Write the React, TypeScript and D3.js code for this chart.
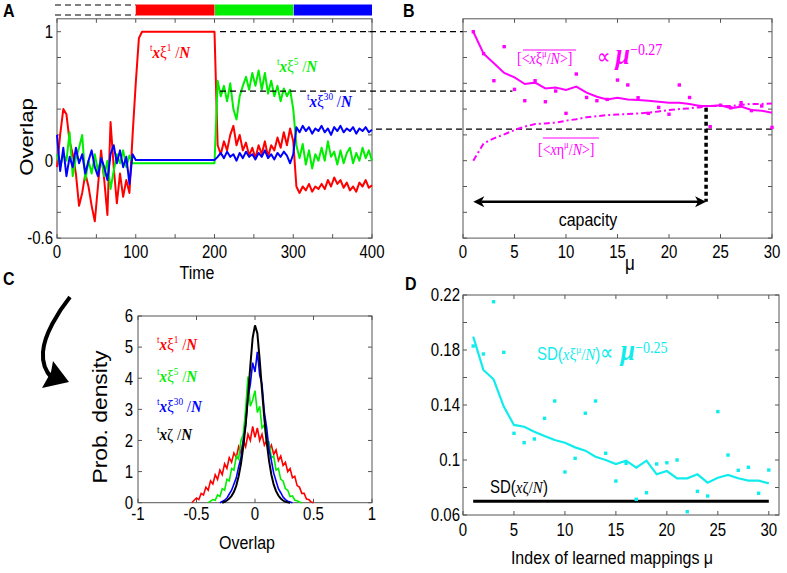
import React from "react";
import * as d3 from "d3";

const SANS = "'Liberation Sans', Arial, Helvetica, sans-serif";
const SERIF = "'Liberation Serif', 'Times New Roman', serif";
const RED = "#ff0000";
const GREEN = "#00ee00";
const BLUE = "#0000ff";
const MAG = "#ff00ff";
const CYAN = "#10ecec";
const STRETCH = 1.17;

// ---------- Panel A : overlap time series (time step 4) ----------
const timeA = d3.range(0, 401, 4);
const overlapXi1 = [
  -0.05, 0.2, 0.4, 0.36, 0.15, 0.05, -0.1, -0.35, -0.25, -0.1, -0.2, -0.35, -0.47, -0.2, 0.08, -0.15, -0.42, 0.3, -0.05, -0.33, -0.1, -0.28, -0.15, -0.25, 0.2,
  0.6, 0.95, 1.0, 1.0, 1.0, 1.0, 1.0, 1.0, 1.0, 1.0, 1.0, 1.0, 1.0, 1.0, 1.0, 1.0, 1.0, 1.0, 1.0, 1.0, 1.0, 1.0, 1.0, 1.0, 1.0, 1.0,
  0.12, 0.05, 0.15, 0.08, 0.2, 0.27, 0.12, 0.2, 0.08, 0.14, 0.04, 0.1, 0.02, 0.12, 0.05, 0.15, 0.03, 0.12, 0.08, 0.18, 0.1, 0.22, 0.12, 0.25, 0.15,
  -0.2, -0.25, -0.2, -0.23, -0.18, -0.24, -0.2, -0.22, -0.18, -0.22, -0.15, -0.2, -0.13, -0.18, -0.15, -0.21, -0.17, -0.23, -0.2, -0.24, -0.17, -0.2, -0.15, -0.21, -0.19,
];
const overlapXi5 = [
  0.05, -0.05, 0.05, 0.0, 0.22, -0.12, 0.02, 0.1, 0.2, -0.15, 0.0, -0.1, 0.05, -0.08, 0.02, -0.12, 0.0, -0.22, -0.08, 0.05, -0.02, 0.08, -0.05, 0.04, -0.02,
  -0.02, -0.02, -0.02, -0.02, -0.02, -0.02, -0.02, -0.02, -0.02, -0.02, -0.02, -0.02, -0.02, -0.02, -0.02, -0.02, -0.02, -0.02, -0.02, -0.02, -0.02, -0.02, -0.02, -0.02, -0.02, -0.02,
  0.62, 0.5, 0.58, 0.46, 0.6, 0.4, 0.32, 0.5, 0.58, 0.65, 0.55, 0.68, 0.58, 0.7, 0.55, 0.68, 0.52, 0.62, 0.5, 0.58, 0.46, 0.56, 0.5, 0.55, 0.4,
  0.12, 0.02, 0.13, -0.03, 0.08, -0.06, 0.05, 0.0, 0.1, 0.0, 0.15, 0.03, 0.07, -0.03, 0.08, -0.02, 0.06, 0.1, -0.02, 0.06, 0.0, 0.1, 0.02, 0.08, 0.0,
];
const overlapXi30 = [
  0.2, -0.08, 0.1, -0.12, 0.03, -0.05, 0.1, -0.02, 0.05, -0.1, 0.0, 0.08, -0.05, -0.12, 0.02, -0.05, -0.15, 0.05, 0.12, -0.02, 0.08, -0.05, 0.03, -0.18, 0.05,
  0.005, 0.005, 0.005, 0.005, 0.005, 0.005, 0.005, 0.005, 0.005, 0.005, 0.005, 0.005, 0.005, 0.005, 0.005, 0.005, 0.005, 0.005, 0.005, 0.005, 0.005, 0.005, 0.005, 0.005, 0.005, 0.005,
  0.03, 0.06, 0.02, 0.07, 0.03, 0.05, 0.0, 0.06, 0.02, 0.07, 0.03, 0.05, 0.01, 0.06, 0.03, 0.08, 0.02, 0.05, 0.01, 0.06, 0.03, 0.07, 0.04, -0.02, 0.05,
  0.26, 0.22, 0.27, 0.23, 0.26, 0.21, 0.25, 0.23, 0.27, 0.22, 0.25, 0.2, 0.26, 0.23, 0.27, 0.22, 0.25, 0.23, 0.26, 0.21, 0.25, 0.23, 0.26, 0.22, 0.24,
];
const timeTicksA = [0, 50, 100, 150, 200, 250, 300, 350, 400];
const timeLabelsA = [0, 100, 200, 300, 400];
const overlapTicks = [-0.6, -0.4, -0.2, 0, 0.2, 0.4, 0.6, 0.8, 1];
const overlapLabels = [-0.6, 0, 1];

// ---------- Panel B ----------
const muB = [1, 2, 3, 4, 5, 6, 7, 8, 9, 10, 11, 12, 13, 14, 15, 16, 17, 18, 19, 20, 21, 22, 23, 24, 25, 26, 27, 28, 29, 30];
const xiMeanFit = [1.0, 0.83, 0.755, 0.68, 0.646, 0.594, 0.605, 0.56, 0.568, 0.548, 0.574, 0.527, 0.496, 0.475, 0.488, 0.475, 0.47, 0.465, 0.457, 0.45, 0.45, 0.44, 0.424, 0.424, 0.43, 0.406, 0.419, 0.393, 0.388, 0.372];
const xiMeanDots = [1.0, 0.83, 0.62, 0.884, 0.553, 0.465, 0.62, 0.457, 0.54, 0.367, 0.672, 0.49, 0.465, 0.475, 0.625, 0.587, 0.488, 0.367, 0.413, 0.36, 0.587, 0.49, 0.42, 0.264, 0.43, 0.41, 0.45, 0.388, 0.424, 0.258];
const etaMean = [0.0, 0.134, 0.173, 0.204, 0.238, 0.264, 0.284, 0.289, 0.295, 0.31, 0.322, 0.336, 0.345, 0.354, 0.358, 0.362, 0.366, 0.372, 0.382, 0.393, 0.4, 0.406, 0.415, 0.424, 0.424, 0.424, 0.432, 0.44, 0.44, 0.444];
const muTicks = [0, 5, 10, 15, 20, 25, 30];
const capacityMu = 23.6;

// ---------- Panel C : histograms (bin 0.02) ----------
const histRedStart = -0.54;
const histRed = [0.0, 0.08, 0.15, 0.1, 0.3, 0.25, 0.5, 0.4, 0.7, 0.6, 0.9, 0.75, 1.05, 0.9, 1.25, 1.1, 1.45, 1.3, 1.6, 1.45, 1.8, 1.6, 2.0, 1.8, 2.2, 2.0, 2.45,
  2.1, 2.4, 2.0, 2.2, 1.85, 2.0, 1.7, 1.85, 1.55, 1.7, 1.35, 1.5, 1.2, 1.3, 1.0, 1.1, 0.8, 0.85, 0.55, 0.5, 0.3, 0.3, 0.12, 0.1, 0.02, 0.0];
const histGreenStart = -0.4;
const histGreen = [0.0, 0.05, 0.1, 0.08, 0.25, 0.2, 0.45, 0.4, 0.75, 0.7, 1.1, 1.05, 1.5, 1.4, 2.0, 2.2, 3.0, 4.05, 3.1, 3.3,
  3.6, 2.9, 3.1, 2.4, 2.5, 1.9, 1.95, 1.45, 1.5, 1.05, 1.1, 0.75, 0.7, 0.45, 0.4, 0.2, 0.22, 0.08, 0.06, 0.02, 0.0];
const histBlueStart = -0.3;
const histBlue = [0.0, 0.04, 0.08, 0.15, 0.28, 0.4, 0.6, 0.8, 1.15, 1.45, 2.0, 2.5, 3.4, 3.8, 4.5,
  4.2, 4.85, 4.1, 3.8, 2.9, 2.4, 1.7, 1.35, 0.95, 0.7, 0.45, 0.32, 0.18, 0.1, 0.05, 0.02, 0.0];
const histBlackStart = -0.28;
const histBlack = [0.0, 0.03, 0.07, 0.13, 0.22, 0.35, 0.55, 0.85, 1.25, 1.8, 2.5, 3.4, 4.4, 5.3,
  5.7, 5.45, 4.6, 3.6, 2.7, 1.95, 1.35, 0.9, 0.58, 0.37, 0.23, 0.13, 0.07, 0.03, 0.01, 0.0];
const binWidth = 0.02;
const overlapTicksC = [-1, -0.5, 0, 0.5, 1];
const densityTicks = [0, 1, 2, 3, 4, 5, 6];

// ---------- Panel D ----------
const muD = muB;
const sdFit = [0.1897, 0.1655, 0.1587, 0.1388, 0.1255, 0.1242, 0.1206, 0.1175, 0.1145, 0.1126, 0.1092, 0.1068, 0.1024, 0.1, 0.0971, 0.0995, 0.0944, 0.0995, 0.0896, 0.092, 0.0867, 0.0867, 0.0896, 0.0835, 0.0871, 0.0891, 0.0867, 0.085, 0.085, 0.083];
const sdDots = [0.1829, 0.1771, 0.2151, 0.1783, 0.1194, 0.1126, 0.1153, 0.1303, 0.1429, 0.0913, 0.1012, 0.134, 0.1429, 0.1049, 0.0847, 0.0976, 0.0714, 0.0762, 0.0971, 0.098, 0.1, 0.0624, 0.0772, 0.0738, 0.1352, 0.1036, 0.0925, 0.0947, 0.0758, 0.0927];
const sdRandom = 0.07;
const sdTicks = [0.06, 0.08, 0.1, 0.12, 0.14, 0.16, 0.18, 0.2, 0.22];
const sdLabels = [0.06, 0.1, 0.14, 0.18, 0.22];

// ---------- scales ----------
const xA = d3.scaleLinear().domain([0, 400]).range([57, 372]);
const yA = d3.scaleLinear().domain([-0.6, 1.1]).range([238.1, 18.8]);
const xB = d3.scaleLinear().domain([0, 30]).range([463, 772]);
const yB = yA.copy();
const xC = d3.scaleLinear().domain([-1, 1]).range([138, 372]);
const yC = d3.scaleLinear().domain([0, 6]).range([502.7, 316]);
const xD = d3.scaleLinear().domain([0, 31]).range([463, 779]);
const yD = d3.scaleLinear().domain([0.06, 0.22]).range([515, 295]);

type Sc = d3.ScaleLinear<number, number>;

function T(props: {
  x: number; y: number; fs: number; anchor?: string; rot?: boolean; bold?: boolean; color?: string; children: React.ReactNode;
}) {
  const { x, y, fs, anchor, rot, bold, color, children } = props;
  const tr = rot
    ? `translate(${x},${y}) scale(1,${STRETCH}) rotate(-90)`
    : `translate(${x},${y}) scale(1,${STRETCH})`;
  return (
    <text transform={tr} textAnchor={anchor ?? "start"} fontSize={fs} fontFamily={SANS}
      fontWeight={bold ? "bold" : "normal"} fill={color ?? "#000"}>
      {children}
    </text>
  );
}

function Frame(props: {
  x: Sc; y: Sc; xt: number[]; yt: number[]; xl: number[]; yl: number[];
  xlabY: number; ylabX: number; fs?: number;
}) {
  const { x, y, xt, yt, xl, yl, xlabY, ylabX } = props;
  const fs = props.fs ?? 15;
  const [L, R] = x.range();
  const [B, T0] = y.range();
  const tl = 4;
  const st = "#555";
  return (
    <g>
      <rect x={L} y={T0} width={R - L} height={B - T0} fill="none" stroke={st} strokeWidth={1} />
      {xt.map((v) => (
        <g key={"xt" + v}>
          <line x1={x(v)} x2={x(v)} y1={B} y2={B - tl} stroke={st} />
          <line x1={x(v)} x2={x(v)} y1={T0} y2={T0 + tl} stroke={st} />
        </g>
      ))}
      {yt.map((v) => (
        <g key={"yt" + v}>
          <line x1={L} x2={L + tl} y1={y(v)} y2={y(v)} stroke={st} />
          <line x1={R} x2={R - tl} y1={y(v)} y2={y(v)} stroke={st} />
        </g>
      ))}
      {xl.map((v) => (
        <T key={"xl" + v} x={x(v)} y={xlabY} fs={fs} anchor="middle">{String(v)}</T>
      ))}
      {yl.map((v) => (
        <T key={"yl" + v} x={ylabX} y={y(v) + fs * 0.36 * STRETCH} fs={fs} anchor="end">{String(v)}</T>
      ))}
    </g>
  );
}

type Piece = { s: string; it?: boolean; b?: boolean; sup?: boolean; sz?: number; sans?: boolean };

function Formula(props: { x: number; y: number; pieces: Piece[]; size: number; color: string }) {
  const { x, y, pieces, size, color } = props;
  let cur = 0;
  return (
    <text transform={`translate(${x},${y}) scale(1,${STRETCH})`} fill={color} fontSize={size} fontFamily={SERIF}>
      {pieces.map((p, i) => {
        const target = p.sup ? -size * 0.42 : 0;
        const dy = target - cur;
        cur = target;
        return (
          <tspan
            key={i}
            dy={dy}
            fontStyle={p.it ? "italic" : "normal"}
            fontWeight={p.b ? "bold" : "normal"}
            fontFamily={p.sans ? SANS : SERIF}
            fontSize={p.sz ?? (p.sup ? size * 0.62 : size)}
          >
            {p.s}
          </tspan>
        );
      })}
    </text>
  );
}

function xiLabel(sup: string): Piece[] {
  return [
    { s: "t", sup: true },
    { s: "x", it: true, b: true },
    { s: "ξ" },
    { s: sup, sup: true },
    { s: " /" },
    { s: "N", it: true, b: true },
  ];
}

function histSeries(start: number, vals: number[]): [number, number][] {
  return vals.map((v, i) => [start + i * binWidth, v]);
}

export default function App() {
  const lineA = d3.line<number>().x((_, i) => xA(timeA[i])).y((d) => yA(d));
  const lineB = d3.line<number>().x((_, i) => xB(muB[i])).y((d) => yB(d));
  const lineC = d3.line<[number, number]>().x((d) => xC(d[0])).y((d) => yC(d[1]));
  const lineD = d3.line<number>().x((_, i) => xD(muD[i])).y((d) => yD(d));

  const dash = "6,4";
  const arrowY = 201.7;
  const capX = xB(capacityMu);

  return (
    <svg width={787} height={573} style={{ position: "absolute", left: 0, top: 0, background: "#fff" }}>
      <rect x={0} y={0} width={787} height={573} fill="#fff" />

      {/* ===== Panel labels ===== */}
      <T x={3} y={17} fs={16} bold>A</T>
      <T x={403} y={17} fs={16} bold>B</T>
      <T x={3} y={285} fs={16} bold>C</T>
      <T x={405} y={290} fs={16} bold>D</T>

      {/* ===== Panel A ===== */}
      <line x1={55} x2={xA(100)} y1={5} y2={5} stroke="#000" strokeDasharray={dash} strokeWidth={1.2} />
      <line x1={55} x2={xA(100)} y1={15} y2={15} stroke="#000" strokeDasharray={dash} strokeWidth={1.2} />
      <rect x={xA(100)} y={4.5} width={xA(200) - xA(100)} height={11} fill={RED} />
      <rect x={xA(200) + 0.5} y={4.5} width={xA(300) - xA(200) - 0.5} height={11} fill={GREEN} />
      <rect x={xA(300) + 0.5} y={4.5} width={xA(400) - xA(300) - 0.5} height={11} fill={BLUE} />

      <Frame x={xA} y={yA} xt={timeTicksA} yt={overlapTicks} xl={timeLabelsA} yl={overlapLabels} xlabY={258} ylabX={53} />
      <path d={lineA(overlapXi1) ?? ""} fill="none" stroke={RED} strokeWidth={2} strokeLinejoin="round" />
      <path d={lineA(overlapXi5) ?? ""} fill="none" stroke={GREEN} strokeWidth={2} strokeLinejoin="round" />
      <path d={lineA(overlapXi30) ?? ""} fill="none" stroke={BLUE} strokeWidth={2} strokeLinejoin="round" />
      <Formula x={150} y={58} size={15} color={RED} pieces={xiLabel("1")} />
      <Formula x={277} y={72} size={15} color={GREEN} pieces={xiLabel("5")} />
      <Formula x={307} y={107} size={15} color={BLUE} pieces={xiLabel("30")} />
      <T x={33} y={137} fs={19} anchor="middle" rot>Overlap</T>
      <T x={197} y={279} fs={16} anchor="middle">Time</T>

      {/* dashed connectors A -> B */}
      <line x1={220} x2={xB(0)} y1={yA(1)} y2={yA(1)} stroke="#000" strokeDasharray={dash} strokeWidth={1.2} />
      <line x1={220} x2={xB(4.8)} y1={yA(0.54)} y2={yA(0.54)} stroke="#000" strokeDasharray={dash} strokeWidth={1.2} />
      <line x1={376} x2={xB(30)} y1={yA(0.245)} y2={yA(0.245)} stroke="#000" strokeDasharray={dash} strokeWidth={1.2} />

      {/* ===== Panel B ===== */}
      <Frame x={xB} y={yB} xt={muTicks} yt={overlapTicks} xl={muTicks} yl={[]} xlabY={258} ylabX={0} />
      <path d={lineB(xiMeanFit) ?? ""} fill="none" stroke={MAG} strokeWidth={2} />
      <path d={lineB(etaMean) ?? ""} fill="none" stroke={MAG} strokeWidth={2} strokeDasharray="6,3,2,3" />
      {xiMeanDots.map((v, i) => (
        <rect key={"bd" + i} x={xB(muB[i]) - 1.7} y={yB(v) - 1.7} width={3.4} height={3.4} fill={MAG} />
      ))}
      <line x1={capX} x2={capX} y1={yB(0.41)} y2={arrowY} stroke="#000" strokeWidth={3.5} strokeDasharray="4,3" />
      <line x1={xB(1) + 8} x2={capX - 8} y1={arrowY} y2={arrowY} stroke="#000" strokeWidth={2.5} />
      <path d={`M${xB(1)},${arrowY} l11,-5.5 l-3,5.5 l3,5.5 z`} fill="#000" />
      <path d={`M${capX},${arrowY} l-11,-5.5 l3,5.5 l-3,5.5 z`} fill="#000" />
      <T x={588} y={226} fs={16} anchor="middle">capacity</T>
      <T x={630} y={270} fs={17} anchor="middle">μ</T>

      <Formula x={517} y={64} size={14} color={MAG} pieces={[
        { s: "[<" }, { s: "x", it: true }, { s: "ξ" }, { s: "μ", sup: true }, { s: "/" }, { s: "N", it: true }, { s: ">]" },
      ]} />
      <line x1={523} x2={576} y1={50} y2={50} stroke={MAG} strokeWidth={1.2} />
      <Formula x={597} y={64} size={19} color={MAG} pieces={[
        { s: "∝ " }, { s: "μ", it: true, b: true, sz: 26 }, { s: "−0.27", sup: true, sz: 14 },
      ]} />
      <Formula x={538} y={155} size={14} color={MAG} pieces={[
        { s: "[<" }, { s: "x", it: true }, { s: "η" }, { s: "μ", sup: true }, { s: "/" }, { s: "N", it: true }, { s: ">]" },
      ]} />
      <line x1={543} x2={599} y1={138} y2={138} stroke={MAG} strokeWidth={1.2} />

      {/* ===== Panel C ===== */}
      <path d="M70,297 C58,312 44,335 43,352 C42,365 47,373 52,378" fill="none" stroke="#000" strokeWidth={4} />
      <path d="M69,382 L42,388 L51,372 L53,361 Z" fill="#000" />
      <Frame x={xC} y={yC} xt={overlapTicksC} yt={densityTicks} xl={overlapTicksC} yl={densityTicks} xlabY={520} ylabX={133} />
      <path d={lineC(histSeries(histRedStart, histRed)) ?? ""} fill="none" stroke={RED} strokeWidth={1.6} />
      <path d={lineC(histSeries(histGreenStart, histGreen)) ?? ""} fill="none" stroke={GREEN} strokeWidth={1.6} />
      <path d={lineC(histSeries(histBlueStart, histBlue)) ?? ""} fill="none" stroke={BLUE} strokeWidth={1.6} />
      <path d={lineC(histSeries(histBlackStart, histBlack)) ?? ""} fill="none" stroke="#000" strokeWidth={2} />
      <Formula x={157} y={350} size={15} color={RED} pieces={xiLabel("1")} />
      <Formula x={157} y={382} size={15} color={GREEN} pieces={xiLabel("5")} />
      <Formula x={157} y={412} size={15} color={BLUE} pieces={xiLabel("30")} />
      <Formula x={157} y={440} size={15} color="#000" pieces={[
        { s: "t", sup: true }, { s: "x", it: true, b: true }, { s: "ζ" }, { s: " /" }, { s: "N", it: true, b: true },
      ]} />
      <T x={107} y={417} fs={19.5} anchor="middle" rot>Prob. density</T>
      <T x={247} y={549} fs={16} anchor="middle">Overlap</T>

      {/* ===== Panel D ===== */}
      <Frame x={xD} y={yD} xt={muTicks} yt={sdTicks} xl={muTicks} yl={sdLabels} xlabY={536} ylabX={460} />
      <line x1={xD(muD[0])} x2={xD(muD[muD.length - 1])} y1={yD(sdRandom)} y2={yD(sdRandom)} stroke="#000" strokeWidth={3} />
      <path d={lineD(sdFit) ?? ""} fill="none" stroke={CYAN} strokeWidth={2.2} />
      {sdDots.map((v, i) => (
        <rect key={"dd" + i} x={xD(muD[i]) - 1.7} y={yD(v) - 1.7} width={3.4} height={3.4} fill={CYAN} />
      ))}
      <Formula x={537} y={360} size={15} color={CYAN} pieces={[
        { s: "SD(", sans: true }, { s: "x", it: true }, { s: "ξ" }, { s: "μ", sup: true }, { s: "/" }, { s: "N", it: true },
        { s: ")", sans: true }, { s: "∝", sz: 19 }, { s: " μ", it: true, b: true, sz: 26 }, { s: "−0.25", sup: true, sz: 14 },
      ]} />
      <Formula x={490} y={493} size={15} color="#000" pieces={[
        { s: "SD(", sans: true }, { s: "x", it: true }, { s: "ζ" }, { s: "/" }, { s: "N", it: true }, { s: ")", sans: true },
      ]} />
      <T x={612} y={564} fs={16} anchor="middle">Index of learned mappings  μ</T>
    </svg>
  );
}
